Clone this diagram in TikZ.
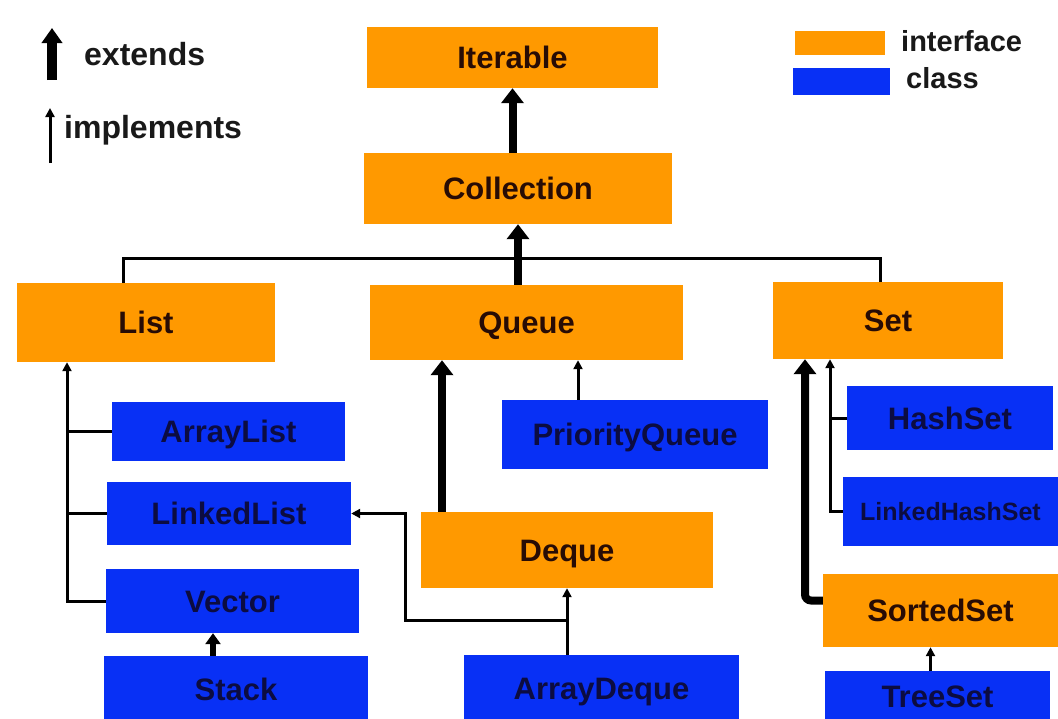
\documentclass[tikz,border=0pt]{standalone}
\usepackage{fontspec}
\setmainfont{Liberation Sans}
\usetikzlibrary{arrows.meta}
\definecolor{ifc}{RGB}{255,153,0}
\definecolor{cls}{RGB}{8,48,245}
\definecolor{ifctext}{RGB}{40,12,5}
\definecolor{clstext}{RGB}{12,12,65}
\definecolor{legtxt}{RGB}{25,25,25}
\begin{document}
\begin{tikzpicture}[x=1pt,y=-1pt,
  box/.style={draw=none,inner sep=0pt,text height=22pt,text depth=0pt,font=\fontsize{31}{31}\selectfont\bfseries},
  ifbox/.style={box,fill=ifc,text=ifctext},
  clbox/.style={box,fill=cls,text=clstext},
  legtext/.style={inner sep=0pt,text=legtxt,font=\fontsize{29}{29}\selectfont\bfseries},
  line/.style={line width=3pt},
  impl/.style={line,-{Triangle[width=9pt,length=9pt]}},
  ext/.style={line width=8pt,-{Triangle[width=22pt,length=15pt]}},
  extsmall/.style={line width=6pt,-{Triangle[width=15pt,length=11pt]}},
]
\fill[white] (0,0) rectangle (1058,718);
\useasboundingbox (0,0) rectangle (1058,718);

% interfaces
\node[ifbox,minimum width=291pt,minimum height=61pt] (Iterable) at (512.5,57.5) {Iterable};
\node[ifbox,minimum width=308pt,minimum height=71pt] (Collection) at (518,188.5) {Collection};
\node[ifbox,minimum width=258pt,minimum height=79pt] (List) at (146,322.5) {List};
\node[ifbox,minimum width=313pt,minimum height=75pt] (Queue) at (526.5,322.5) {Queue};
\node[ifbox,minimum width=230pt,minimum height=77pt] (Set) at (888,320.5) {Set};
\node[ifbox,minimum width=292pt,minimum height=76pt] (Deque) at (567,550) {Deque};
\node[ifbox,minimum width=235pt,minimum height=73pt] (SortedSet) at (940.5,610.5) {SortedSet};

% classes
\node[clbox,minimum width=233pt,minimum height=59pt] (ArrayList) at (228.5,431.5) {ArrayList};
\node[clbox,minimum width=244pt,minimum height=63pt] (LinkedList) at (229,513.5) {LinkedList};
\node[clbox,minimum width=253pt,minimum height=64pt] (Vector) at (232.5,601) {Vector};
\node[clbox,minimum width=264pt,minimum height=66pt] (Stack) at (236,689) {Stack};
\node[clbox,minimum width=266pt,minimum height=69pt] (PriorityQueue) at (635,434.5) {PriorityQueue};
\node[clbox,minimum width=275pt,minimum height=67pt] (ArrayDeque) at (601.5,688.5) {ArrayDeque};
\node[clbox,minimum width=206pt,minimum height=64pt] (HashSet) at (950,418) {HashSet};
\node[clbox,minimum width=215pt,minimum height=69pt,text height=18pt,font=\fontsize{25}{25}\selectfont\bfseries] (LinkedHashSet) at (950.5,511.5) {LinkedHashSet};
\node[clbox,minimum width=225pt,minimum height=51pt] (TreeSet) at (937.5,696.5) {TreeSet};

% extends (thick)
\draw[ext] (Collection.north -| Iterable.south) -- (Iterable.south);
\draw[ext] (Queue.north -| Collection.south) -- (Collection.south);
\draw[ext] ([xshift=-125pt]Deque.north) -- ([xshift=-125pt]Deque.north |- Queue.south);
\draw[extsmall] ([xshift=-23pt]Stack.north) -- ([xshift=-23pt]Stack.north |- Vector.south);
\draw[ext,rounded corners=6pt] ([yshift=10pt]SortedSet.west) -| ([xshift=-83pt]Set.south);

% bus from Collection to List and Set
\coordinate (bus) at (0,258);
\draw[line] ([xshift=-23pt]List.north) -- ([xshift=-23pt]List.north |- bus) -- ([xshift=-8pt]Set.north |- bus) -- ([xshift=-8pt]Set.north);

% implements (thin)
\coordinate (Lx) at ([xshift=-79pt]List.south);
\draw[impl] (Vector.west) -| (Lx);
\draw[line] (ArrayList.west) -- (ArrayList.west -| Lx);
\draw[line] (LinkedList.west) -- (LinkedList.west -| Lx);

\draw[impl] ([xshift=-57pt]PriorityQueue.north) -- ([xshift=-57pt]PriorityQueue.north |- Queue.south);

\coordinate (adj) at (567,620);
\coordinate (ldj) at (405,620);
\draw[impl] (ArrayDeque.north -| Deque.south) -- (Deque.south);
\draw[impl] (adj) -- (ldj) |- (LinkedList.east);

\coordinate (Sx) at ([xshift=-58pt]Set.south);
\draw[impl] (LinkedHashSet.west) -| (Sx);
\draw[line] (HashSet.west) -- (HashSet.west -| Sx);

\draw[impl] ([xshift=-7pt]TreeSet.north) -- ([xshift=-7pt]TreeSet.north |- SortedSet.south);

% legend
\coordinate (e1) at (52,80);
\coordinate (e2) at (52,28);
\draw[line width=10pt,-{Triangle[width=20pt,length=15pt]}] (e1) -- (e2);
\coordinate (i1) at (50,163);
\coordinate (i2) at (50,108);
\draw[impl] (i1) -- (i2);
\node[legtext,font=\fontsize{32}{32}\selectfont\bfseries,anchor=base west] (extends) at (84,65) {extends};
\node[legtext,font=\fontsize{32}{32}\selectfont\bfseries,anchor=base west] (implements) at (64,138) {implements};
\node[fill=ifc,inner sep=0pt,minimum width=90pt,minimum height=24pt] (legI) at (840,43) {};
\node[fill=cls,inner sep=0pt,minimum width=97pt,minimum height=27pt] (legC) at (841.5,81.5) {};
\node[legtext,anchor=base west] (tI) at (901,51) {interface};
\node[legtext,anchor=base west] (tC) at (906,88) {class};
\end{tikzpicture}
\end{document}
